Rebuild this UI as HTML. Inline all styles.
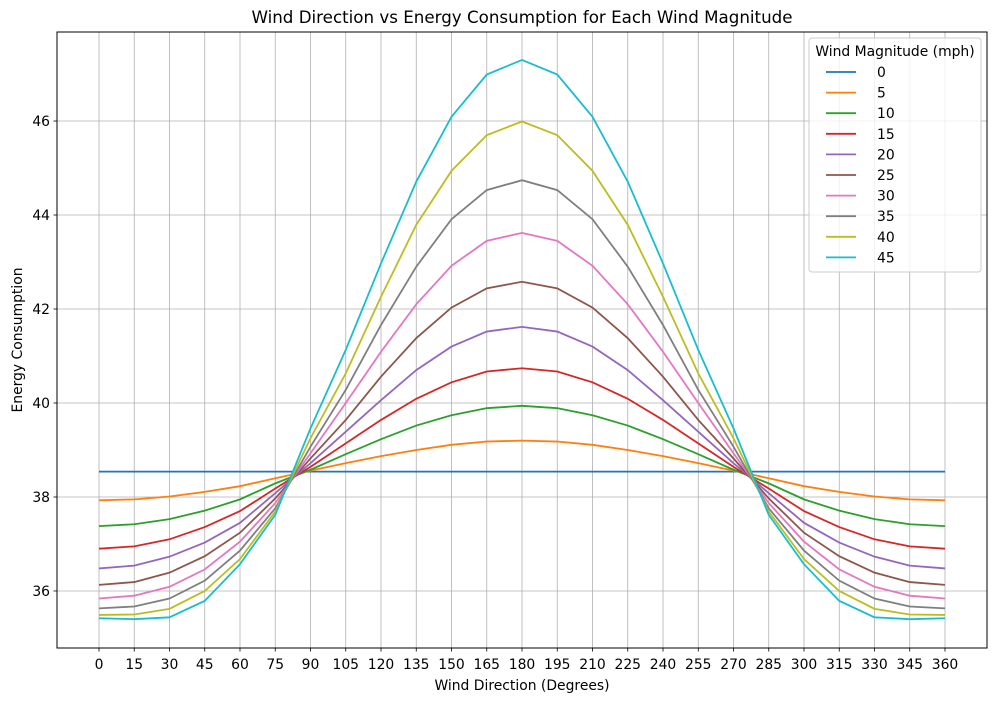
<!DOCTYPE html>
<html><head><meta charset="utf-8"><style>
body{margin:0;background:#fff;}
svg{display:block;font-family:"DejaVu Sans","Liberation Sans",sans-serif;}
</style></head><body>
<svg id="chart" width="996" height="701" viewBox="0 0 996 701" xmlns="http://www.w3.org/2000/svg">
<rect width="996" height="701" fill="#fff"/>
<g id="grid"></g>
<g id="series"></g>
<rect x="57" y="32" width="930" height="616" fill="none" stroke="#000" stroke-width="1"/>
<g id="ticks"></g>
<text x="522" y="23" text-anchor="middle" font-size="16.7">Wind Direction vs Energy Consumption for Each Wind Magnitude</text>
<text x="522" y="690" text-anchor="middle" font-size="13.9">Wind Direction (Degrees)</text>
<text transform="translate(22,340) rotate(-90)" text-anchor="middle" font-size="13.9">Energy Consumption</text>
<g id="legend"></g>
</svg>
<script>
const directions=[0,15,30,45,60,75,90,105,120,135,150,165,180,195,210,225,240,255,270,285,300,315,330,345,360];
const magnitudes=["0","5","10","15","20","25","30","35","40","45"];
const half0=[38.54,38.54,38.54,38.54,38.54,38.54,38.54,38.54,38.54,38.54,38.54,38.54,38.54];
const half5=[37.93,37.95,38.01,38.11,38.23,38.40,38.56,38.72,38.87,39.00,39.11,39.18,39.20];
const half10=[37.38,37.42,37.53,37.71,37.95,38.29,38.58,38.91,39.23,39.52,39.74,39.89,39.94];
const half15=[36.90,36.95,37.10,37.36,37.70,38.18,38.64,39.14,39.64,40.09,40.44,40.67,40.74];
const half20=[36.48,36.54,36.73,37.03,37.45,38.08,38.72,39.39,40.06,40.70,41.20,41.52,41.62];
const half25=[36.13,36.19,36.39,36.74,37.24,37.97,38.82,39.64,40.56,41.38,42.03,42.44,42.58];
const half30=[35.84,35.90,36.09,36.46,37.05,37.87,38.93,40.00,41.09,42.10,42.92,43.45,43.62];
const half35=[35.63,35.67,35.84,36.22,36.86,37.76,39.07,40.28,41.66,42.90,43.91,44.53,44.74];
const half40=[35.49,35.50,35.62,36.00,36.68,37.69,39.25,40.63,42.26,43.79,44.94,45.70,45.99];
const half45=[35.42,35.40,35.44,35.79,36.57,37.62,39.46,41.13,42.97,44.71,46.09,46.99,47.30];
const colors=["#1f77b4","#ff7f0e","#2ca02c","#d62728","#9467bd","#8c564b","#e377c2","#7f7f7f","#bcbd22","#17becf"];
const xTicks=[0,15,30,45,60,75,90,105,120,135,150,165,180,195,210,225,240,255,270,285,300,315,330,345,360];
const yTicks=[36,38,40,42,44,46];
const halves=[half0,half5,half10,half15,half20,half25,half30,half35,half40,half45];
const NS="http://www.w3.org/2000/svg";
const L=57,R=987,T=32,B=648;
const xMin=-17.87,xMax=377.87,yMin=34.787,yMax=47.894;
function xs(v){return L+(v-xMin)/(xMax-xMin)*(R-L);}
function ys(v){return B-(v-yMin)/(yMax-yMin)*(B-T);}
function mk(tag,attrs,parent){const e=document.createElementNS(NS,tag);for(const k in attrs)e.setAttribute(k,attrs[k]);parent.appendChild(e);return e;}
const grid=document.getElementById('grid'),ticks=document.getElementById('ticks'),ser=document.getElementById('series'),leg=document.getElementById('legend');
xTicks.forEach(t=>{const x=xs(t);
 const g=mk('line',{x1:x,x2:x,y1:T,y2:B,stroke:'#b0b0b0','stroke-width':0.8},grid);
 
 
 mk('line',{x1:x,x2:x,y1:B,y2:B+3.5,stroke:'#000','stroke-width':0.8},ticks);
 const tx=mk('text',{x:x,y:B+21,'text-anchor':'middle','font-size':13.9},ticks);tx.textContent=t;
 
 
});
yTicks.forEach(t=>{const y=ys(t);
 const g=mk('line',{x1:L,x2:R,y1:y,y2:y,stroke:'#b0b0b0','stroke-width':0.8},grid);
 
 
 mk('line',{x1:L-3.5,x2:L,y1:y,y2:y,stroke:'#000','stroke-width':0.8},ticks);
 const tx=mk('text',{x:L-7,y:y+5,'text-anchor':'end','font-size':13.9},ticks);tx.textContent=t;
 
 
});
halves.forEach((h,i)=>{
 const vals=h.concat(h.slice(0,12).reverse());
 const pts=directions.map((d,j)=>xs(d).toFixed(2)+','+ys(vals[j]).toFixed(2)).join(' ');
 const p=mk('polyline',{points:pts,fill:'none',stroke:colors[i],'stroke-width':1.8},ser);
 
 
});
const box=mk('rect',{x:809,y:38,width:172,height:234,rx:3,fill:'#fff','fill-opacity':0.8,stroke:'#ccc','stroke-width':1},leg);


const lt=mk('text',{x:895,y:56,'text-anchor':'middle','font-size':13.9},leg);lt.textContent='Wind Magnitude (mph)';


magnitudes.forEach((m,i)=>{const y=72+i*20.6;
 const g=mk('g',{},leg);
 
 
 mk('line',{x1:826,x2:856,y1:y,y2:y,stroke:colors[i],'stroke-width':1.8},g);
 const t=mk('text',{x:877,y:y+5,'font-size':13.9},g);t.textContent=m;
});
</script>
</body></html>
